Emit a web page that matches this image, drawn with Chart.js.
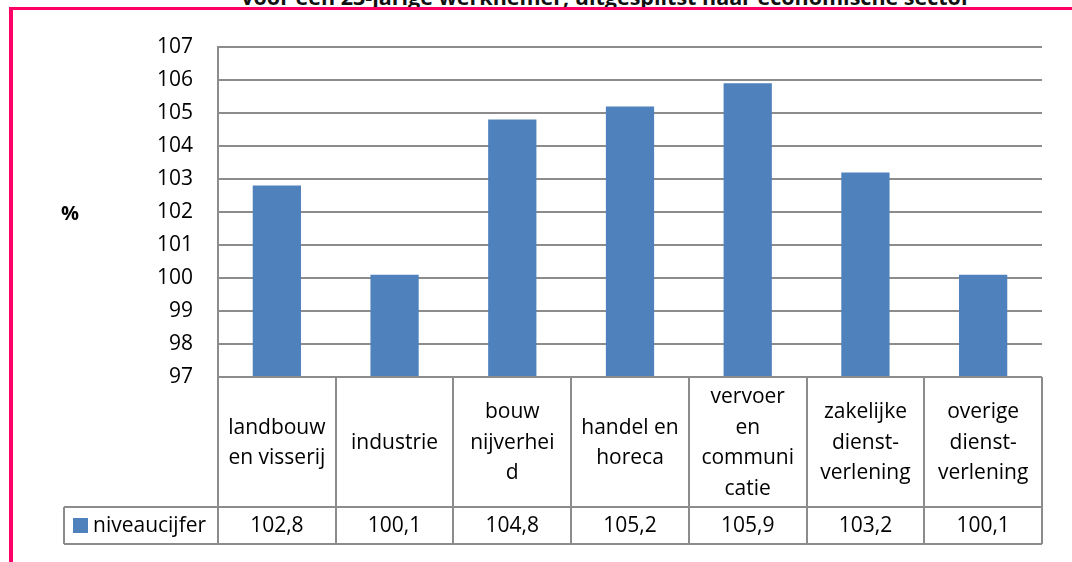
<!DOCTYPE html>
<html lang="nl">
<head>
    <meta charset="UTF-8">
    <title>Niveaucijfer per economische sector</title>
    <script src="https://cdn.jsdelivr.net/npm/chart.js@4/dist/chart.umd.min.js"></script>
    <style>
        body {
            margin: 0;
            background: #fff;
            width: 1072px;
            height: 562px;
            overflow: hidden;
            position: relative;
            font-family: "Open Sans", sans-serif;
        }
        .title {
            position: absolute;
            top: -13px;
            left: 0;
            width: 1212px;
            text-align: center;
            font-weight: bold;
            font-size: 21.5px;
            line-height: 20px;
            color: #111;
            white-space: nowrap;
        }
        .frame-top {
            position: absolute;
            left: 9px;
            top: 7px;
            width: 1063px;
            height: 3px;
            background: #ff0066;
        }
        .frame-left {
            position: absolute;
            left: 9px;
            top: 7px;
            width: 4px;
            height: 555px;
            background: #ff0066;
        }
        #wrap {
            position: absolute;
            left: 0;
            top: 0;
            width: 1072px;
            height: 562px;
        }
    </style>
</head>
<body>
    <div class="title">voor een 23-jarige werknemer, uitgesplitst naar economische sector</div>
    <div class="frame-top"></div>
    <div class="frame-left"></div>
    <div id="wrap"><canvas id="chart"></canvas></div>

    <script>
        const categories = [
            ['landbouw', 'en visserij'],
            ['industrie'],
            ['bouw', 'nijverhei', 'd'],
            ['handel en', 'horeca'],
            ['vervoer', 'en', 'communi', 'catie'],
            ['zakelijke', 'dienst-', 'verlening'],
            ['overige', 'dienst-', 'verlening']
        ];
        const values = [102.8, 100.1, 104.8, 105.2, 105.9, 103.2, 100.1];
        const valueLabels = ['102,8', '100,1', '104,8', '105,2', '105,9', '103,2', '100,1'];
        const seriesName = 'niveaucijfer';
        const axisUnit = '%';

        const barColor = '#4f81bd';
        const lineColor = '#8c8c8c';
        const font = '"Open Sans", sans-serif';

        // data table under the plot, drawn from the x scale
        const tablePlugin = {
            id: 'dataTable',
            afterDraw(chart) {
                const ctx = chart.ctx;
                const area = chart.chartArea;
                const x = chart.scales.x;
                const half = (x.getPixelForValue(1) - x.getPixelForValue(0)) / 2;
                const top = area.bottom;
                const rowY = 507;
                const bottom = 544;
                const legendLeft = 64;

                ctx.save();
                ctx.strokeStyle = lineColor;
                ctx.lineWidth = 2;
                ctx.beginPath();
                ctx.moveTo(area.left, top); ctx.lineTo(area.right, top);
                ctx.moveTo(legendLeft, rowY); ctx.lineTo(area.right, rowY);
                ctx.moveTo(legendLeft, bottom); ctx.lineTo(area.right, bottom);
                ctx.moveTo(legendLeft, rowY); ctx.lineTo(legendLeft, bottom);
                for (let i = 0; i <= categories.length; i++) {
                    const px = Math.round(x.getPixelForValue(i) - half);
                    ctx.moveTo(px, top); ctx.lineTo(px, bottom);
                }
                ctx.stroke();

                ctx.fillStyle = '#000';
                ctx.font = '21px ' + font;
                ctx.textAlign = 'center';
                ctx.textBaseline = 'middle';
                const lh = 30.5;
                const midCat = (top + rowY) / 2 + 1;
                categories.forEach((lines, i) => {
                    const cx = x.getPixelForValue(i);
                    const y0 = midCat - (lines.length - 1) * lh / 2;
                    lines.forEach((t, j) => ctx.fillText(t, cx, y0 + j * lh));
                    ctx.fillText(valueLabels[i], cx, (rowY + bottom) / 2 + 1);
                });

                // legend key in first cell
                ctx.fillStyle = barColor;
                ctx.fillRect(73, 518, 15, 15);
                ctx.fillStyle = '#000';
                ctx.textAlign = 'left';
                ctx.fillText(seriesName, 93, (rowY + bottom) / 2 + 1);

                ctx.font = 'bold 20px ' + font;
                ctx.textAlign = 'center';
                ctx.fillText(axisUnit, 70, 214);
                ctx.restore();
            }
        };

        new Chart(document.getElementById('chart'), {
            type: 'bar',
            data: {
                labels: categories,
                datasets: [{
                    label: seriesName,
                    data: values,
                    backgroundColor: barColor,
                    borderWidth: 0,
                    barPercentage: 0.41,
                    categoryPercentage: 1
                }]
            },
            options: {
                responsive: true,
                maintainAspectRatio: false,
                animation: false,
                layout: { padding: { left: 0, top: 47, right: 30, bottom: 185 } },
                plugins: {
                    legend: { display: false },
                    tooltip: { enabled: false }
                },
                scales: {
                    x: {
                        display: false
                    },
                    y: {
                        min: 97,
                        max: 107,
                        afterFit(scale) { scale.width = 218; },
                        ticks: {
                            stepSize: 1,
                            padding: 25,
                            color: '#000',
                            font: { family: font, size: 21 }
                        },
                        grid: {
                            color: lineColor,
                            lineWidth: 2,
                            drawTicks: false
                        },
                        border: { display: true, color: lineColor, width: 2 }
                    }
                }
            },
            plugins: [tablePlugin]
        });
    </script>
</body>
</html>
